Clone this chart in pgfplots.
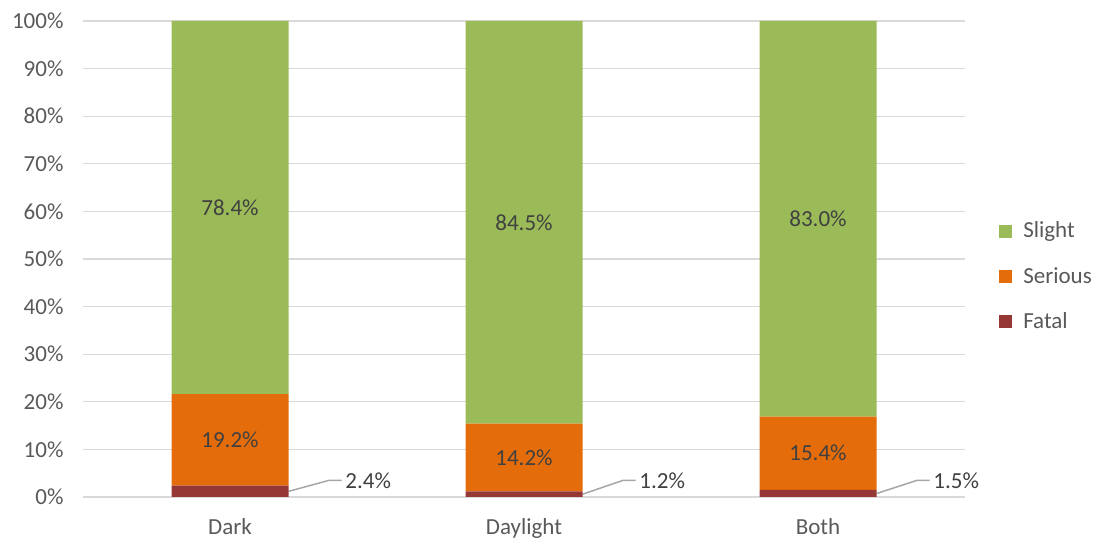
\documentclass[border=0pt]{standalone}
\usepackage{fontspec}
\setmainfont{Carlito}
\usepackage{pgfplots}
\pgfplotsset{compat=1.18}
\definecolor{slight}{HTML}{9BBB59}
\definecolor{serious}{HTML}{E46C0A}
\definecolor{fatal}{HTML}{953735}
\definecolor{txt}{HTML}{595959}
\definecolor{lbl}{HTML}{404040}
\definecolor{grd}{HTML}{D9D9D9}
\definecolor{lead}{HTML}{A6A6A6}
\newcommand{\fs}{\fontsize{23bp}{27bp}\selectfont}
\begin{document}
\begin{tikzpicture}[x=1bp,y=1bp]
\path[use as bounding box] (-83,-43) rectangle (1020,497);
\begin{axis}[
 at={(0,0)}, anchor=south west,
 scale only axis, width=882bp, height=476bp,
 ybar stacked, bar width=117bp,
 xmin=-0.5, xmax=2.5, ymin=0, ymax=100,
 xtick={0,1,2}, xticklabels={Dark,Daylight,Both},
 ytick={0,10,...,100}, yticklabel={\pgfmathprintnumber{\tick}\%},
 /pgf/number format/assume math mode=true,
 ymajorgrids, grid style={grd, line width=1.2bp},
 axis line style={draw=none}, major tick length=0,
 ticklabel style={font=\fs, text=txt},
 yticklabel style={xshift=-16bp},
 xticklabel style={yshift=-18bp},
 legend style={draw=none, fill=none, at={(1.035,0.464)}, anchor=west,
   font=\fs, text=txt, row sep=24bp},
 legend cell align=left,
 clip=false,
]
\addplot[fill=fatal, draw=none, forget plot] coordinates {(0,2.4) (1,1.2) (2,1.5)};
\addplot[fill=serious, draw=none, forget plot] coordinates {(0,19.2) (1,14.2) (2,15.4)};
\addplot[fill=slight, draw=none, forget plot] coordinates {(0,78.4) (1,84.6) (2,83.1)};
\addlegendimage{legend image code/.code={\fill[slight] (0bp,-6bp) rectangle (12bp,6bp); \path[draw=none] (0bp,0bp) -- (22bp,0bp);}}
\addlegendentry{Slight}
\addlegendimage{legend image code/.code={\fill[serious] (0bp,-6bp) rectangle (12bp,6bp); \path[draw=none] (0bp,0bp) -- (22bp,0bp);}}
\addlegendentry{Serious}
\addlegendimage{legend image code/.code={\fill[fatal] (0bp,-6bp) rectangle (12bp,6bp); \path[draw=none] (0bp,0bp) -- (22bp,0bp);}}
\addlegendentry{Fatal}
\coordinate (s0) at (axis cs:0,60.8);
\coordinate (s1) at (axis cs:1,57.65);
\coordinate (s2) at (axis cs:2,58.5);
\coordinate (r0) at (axis cs:0,12.0);
\coordinate (r1) at (axis cs:1,8.3);
\coordinate (r2) at (axis cs:2,9.2);
\draw[lead, line width=1.5bp] (axis cs:0.2,1.2) -- (axis cs:0.337,3.5) -- (axis cs:0.38,3.5) node[right, inner sep=3bp, font=\fs, text=lbl] {2.4\%};
\draw[lead, line width=1.5bp] (axis cs:1.2,0.6) -- (axis cs:1.337,3.5) -- (axis cs:1.38,3.5) node[right, inner sep=3bp, font=\fs, text=lbl] {1.2\%};
\draw[lead, line width=1.5bp] (axis cs:2.2,0.75) -- (axis cs:2.337,3.5) -- (axis cs:2.38,3.5) node[right, inner sep=3bp, font=\fs, text=lbl] {1.5\%};
\end{axis}
\node[font=\fs, text=lbl] at (s0) {78.4\%};
\node[font=\fs, text=lbl] at (s1) {84.5\%};
\node[font=\fs, text=lbl] at (s2) {83.0\%};
\node[font=\fs, text=lbl] at (r0) {19.2\%};
\node[font=\fs, text=lbl] at (r1) {14.2\%};
\node[font=\fs, text=lbl] at (r2) {15.4\%};
\end{tikzpicture}
\end{document}
